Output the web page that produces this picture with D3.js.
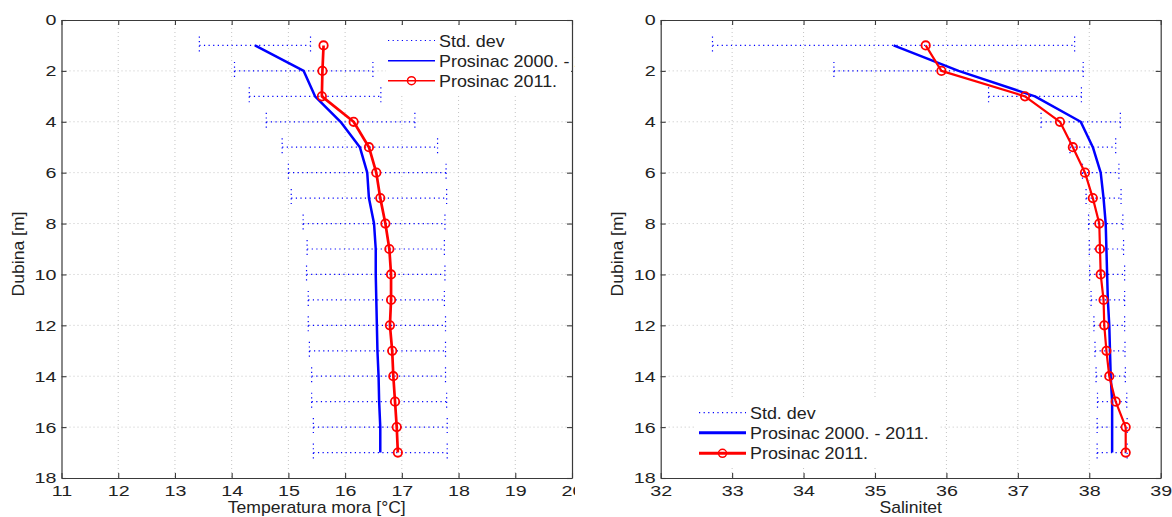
<!DOCTYPE html>
<html><head><meta charset="utf-8">
<script src="https://cdn.jsdelivr.net/npm/d3@7"></script>
<style>
body{margin:0;background:#fff}
svg{display:block}
text{font-family:"Liberation Sans",Arial,sans-serif;fill:#222}
</style>
</head><body>
<svg id="c" width="1172" height="517"></svg>
<script>
// ---- data ----
const depths = [1,2,3,4,5,6,7,8,9,10,11,12,13,14,15,16,17];
const tempMean = [14.41,15.27,15.47,15.92,16.26,16.39,16.42,16.51,16.54,16.54,16.55,16.56,16.57,16.59,16.60,16.62,16.62];
const tempStd  = [0.98,1.22,1.16,1.31,1.37,1.39,1.37,1.25,1.21,1.22,1.20,1.21,1.20,1.18,1.19,1.18,1.18];
const temp2011 = [15.62,15.60,15.59,16.15,16.42,16.55,16.62,16.71,16.78,16.81,16.81,16.79,16.83,16.85,16.88,16.91,16.93];
const salMean = [35.26,36.17,37.24,37.88,38.05,38.16,38.20,38.23,38.24,38.25,38.26,38.28,38.29,38.30,38.32,38.32,38.32];
const salStd  = [2.535,1.745,0.65,0.555,0.32,0.255,0.245,0.24,0.24,0.245,0.235,0.215,0.21,0.205,0.205,0.21,0.21];
const sal2011 = [35.71,35.93,37.10,37.59,37.77,37.94,38.05,38.14,38.15,38.16,38.20,38.21,38.24,38.28,38.37,38.51,38.51];
const tempTicks = [11,12,13,14,15,16,17,18,19,20];
const salTicks = [32,33,34,35,36,37,38,39];
const depthTicks = [0,2,4,6,8,10,12,14,16,18];
const legendLabels = ["Std. dev","Prosinac 2000. - 2011.","Prosinac 2011."];
const yLabel = "Dubina [m]";
const xLabels = ["Temperatura mora [°C]","Salinitet"];

// ---- drawing ----
const svg = d3.select("#c");
const BLUE = "#0000ff", RED = "#ff0000", AX = "#3a3a3a";
const TSX = 1.27; // horizontal stretch of tick labels

svg.append("defs").append("clipPath").attr("id","clipL")
  .append("rect").attr("x",0).attr("y",0).attr("width",575).attr("height",517);

function panel(o){
  const g = svg.append("g");
  if(o.clip) g.attr("clip-path","url(#clipL)");
  const x = d3.scaleLinear().domain(o.xDomain).range(o.xRange);
  const y = d3.scaleLinear().domain([0,18]).range([20,478]);
  const [x0,x1] = o.xRange, [y0,y1] = y.range();

  // grid
  const grid = g.append("g").attr("stroke","#c4c4c4").attr("stroke-width",1).attr("stroke-dasharray","1,3");
  grid.selectAll("line.v").data(o.xTicks.slice(1,-1)).join("line").attr("class","v")
    .attr("x1",d=>x(d)).attr("x2",d=>x(d)).attr("y1",y0).attr("y2",y1);
  grid.selectAll("line.h").data(depthTicks.slice(1,-1)).join("line").attr("class","h")
    .attr("y1",d=>y(d)).attr("y2",d=>y(d)).attr("x1",x0).attr("x2",x1);

  // error bars
  const eb = g.append("g").attr("stroke",BLUE).attr("stroke-width",1.2).attr("stroke-dasharray","1.2,3.4");
  depths.forEach((d,i)=>{
    const lo = x(o.mean[i]-o.std[i]), hi = x(o.mean[i]+o.std[i]), yy = y(d);
    eb.append("line").attr("x1",lo).attr("x2",hi).attr("y1",yy).attr("y2",yy);
    eb.append("line").attr("x1",lo).attr("x2",lo).attr("y1",yy-9).attr("y2",yy+9);
    eb.append("line").attr("x1",hi).attr("x2",hi).attr("y1",yy-9).attr("y2",yy+9);
  });

  const line = d3.line().x(p=>x(p[0])).y(p=>y(p[1]));
  g.append("path").datum(depths.map((d,i)=>[o.mean[i],d])).attr("d",line)
    .attr("fill","none").attr("stroke",BLUE).attr("stroke-width",2.5).attr("stroke-linejoin","round");
  g.append("path").datum(depths.map((d,i)=>[o.obs[i],d])).attr("d",line)
    .attr("fill","none").attr("stroke",RED).attr("stroke-width",o.redW).attr("stroke-linejoin","round");
  g.append("g").selectAll("circle").data(depths).join("circle")
    .attr("cx",(d,i)=>x(o.obs[i])).attr("cy",d=>y(d)).attr("r",4.2)
    .attr("fill","none").attr("stroke",RED).attr("stroke-width",1.8);

  // axes
  const style = sel => {
    sel.attr("font-size",null).attr("font-family",null);
    sel.select(".domain").attr("stroke",AX).attr("stroke-width",1.2);
    sel.selectAll(".tick line").attr("stroke",AX).attr("stroke-width",1.1);
    sel.selectAll(".tick text").attr("font-size","15.5px").attr("fill","#222")
      .attr("transform",`scale(${TSX},1)`);
  };
  g.append("g").attr("transform",`translate(0,${y1})`)
    .call(d3.axisBottom(x).tickValues(o.xTicks).tickFormat(d3.format("d")).tickSizeInner(-5).tickSizeOuter(0).tickPadding(7.3))
    .call(style);
  g.append("g").attr("transform",`translate(0,${y0})`)
    .call(d3.axisTop(x).tickValues(o.xTicks).tickFormat("").tickSizeInner(-5).tickSizeOuter(0))
    .call(style);
  g.append("g").attr("transform",`translate(${x0},0)`)
    .call(d3.axisLeft(y).tickValues(depthTicks).tickFormat(d3.format("d")).tickSizeInner(-5).tickSizeOuter(0).tickPadding(5/TSX))
    .call(style);
  g.append("g").attr("transform",`translate(${x1},0)`)
    .call(d3.axisRight(y).tickValues(depthTicks).tickFormat("").tickSizeInner(-5).tickSizeOuter(0))
    .call(style);

  // axis labels
  g.append("text").attr("text-anchor","middle").attr("font-size","16px")
    .attr("transform",`translate(${(x0+x1)/2},${o.xLabY}) scale(1.1,1)`).text(o.xLabel);
  g.append("text").attr("text-anchor","middle").attr("font-size","16px")
    .attr("transform",`translate(${o.yLabX},254) rotate(-90) scale(1.1,1)`).text(yLabel);

  // legend
  const L = o.leg;
  const lg = g.append("g");
  lg.append("rect").attr("x",L.bx).attr("y",L.by).attr("width",L.bw).attr("height",L.bh).attr("fill","#fff");
  const rows = L.rows;
  lg.append("line").attr("x1",L.sx).attr("x2",L.sx+47).attr("y1",rows[0]).attr("y2",rows[0])
    .attr("stroke",BLUE).attr("stroke-width",1.2).attr("stroke-dasharray","1.2,3.4");
  lg.append("line").attr("x1",L.sx).attr("x2",L.sx+47).attr("y1",rows[1]).attr("y2",rows[1])
    .attr("stroke",BLUE).attr("stroke-width",L.lw);
  lg.append("line").attr("x1",L.sx).attr("x2",L.sx+47).attr("y1",rows[2]).attr("y2",rows[2])
    .attr("stroke",RED).attr("stroke-width",L.lw);
  lg.append("circle").attr("cx",L.sx+23.5).attr("cy",rows[2]).attr("r",4)
    .attr("fill","none").attr("stroke",RED).attr("stroke-width",1.5);
  legendLabels.forEach((t,i)=>{
    lg.append("text").attr("font-size","16px")
      .attr("transform",`translate(${L.sx+51},${rows[i]+6}) scale(1.12,1)`).text(t);
  });
}

panel({xDomain:[11,20], xRange:[61.5,572], xTicks:tempTicks, mean:tempMean, std:tempStd, obs:temp2011,
  redW:2.7, clip:true, xLabel:xLabels[0], xLabY:513, yLabX:23.5,
  leg:{bx:386,by:26,bw:185,bh:67,sx:388,rows:[40.5,60.7,80.7],lw:1.5}});
panel({xDomain:[32,39], xRange:[660.7,1160.7], xTicks:salTicks, mean:salMean, std:salStd, obs:sal2011,
  redW:2.2, clip:false, xLabel:xLabels[1], xLabY:513, yLabX:623.3,
  leg:{bx:695,by:398,bw:245,bh:70,sx:699,rows:[412.7,432.7,453.3],lw:3}});
</script>
</body></html>
